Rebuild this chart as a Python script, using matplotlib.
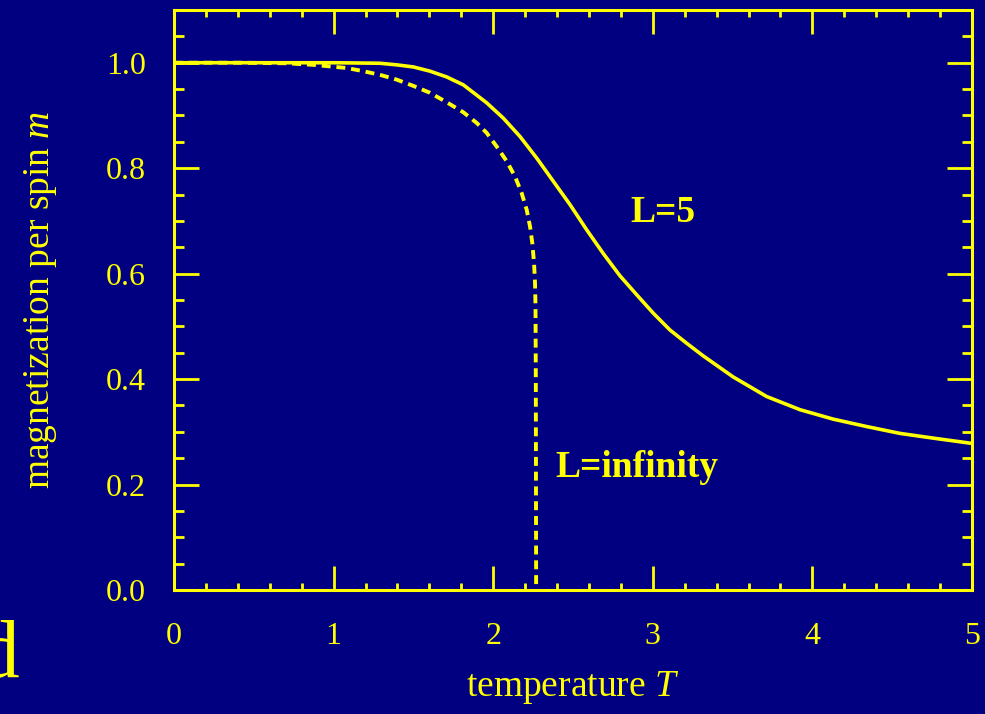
import matplotlib
matplotlib.use("Agg")
import matplotlib.pyplot as plt
from matplotlib.ticker import MultipleLocator

plt.rcParams["mathtext.fontset"] = "custom"
plt.rcParams["mathtext.it"] = "Liberation Serif:italic"
plt.rcParams["mathtext.rm"] = "Liberation Serif"

# Data
T_inf = [0.0, 0.4, 0.7, 0.873, 1.082, 1.186, 1.291, 1.395, 1.50, 1.604, 1.709, 1.813,
         1.896, 1.959, 2.022, 2.085, 2.137, 2.178, 2.210, 2.231, 2.245, 2.256, 2.262,
         2.265, 2.267, 2.268, 2.269]
m_inf = [1.0, 1.0, 0.999, 0.996, 0.990, 0.984, 0.977, 0.968, 0.956, 0.943, 0.925, 0.906,
         0.886, 0.867, 0.841, 0.813, 0.784, 0.753, 0.721, 0.689, 0.658, 0.620, 0.582,
         0.54, 0.40, 0.20, 0.0]

T_L5 = [0.0, 0.5, 1.0, 1.29, 1.395, 1.50, 1.604, 1.709, 1.813, 1.959, 2.063, 2.168,
        2.273, 2.377, 2.481, 2.586, 2.690, 2.794, 2.899, 3.003, 3.108, 3.212, 3.316,
        3.504, 3.713, 3.922, 4.131, 4.340, 4.549, 4.758, 5.0]
m_L5 = [1.0, 1.0, 1.0, 0.999, 0.996, 0.992, 0.984, 0.973, 0.958, 0.924, 0.895, 0.860,
        0.819, 0.775, 0.731, 0.683, 0.638, 0.596, 0.560, 0.525, 0.493, 0.468, 0.444,
        0.404, 0.367, 0.342, 0.324, 0.310, 0.297, 0.288, 0.278]

x_ticks = [0, 1, 2, 3, 4, 5]
y_ticks = [0.0, 0.2, 0.4, 0.6, 0.8, 1.0]
y_tick_labels = ["0.0", "0.2", "0.4", "0.6", "0.8", "1.0"]

BG = "#000080"
FG = "#FFFF00"
SERIF = ["Liberation Serif", "DejaVu Serif"]

fig = plt.figure(figsize=(9.85, 7.14), dpi=100, facecolor=BG)
ax = fig.add_axes([174/985, (714-590)/714, (972-174)/985, (590-10)/714])
ax.set_facecolor(BG)

ax.plot(T_L5, m_L5, color=FG, lw=2.6, solid_joinstyle="round")
ax.plot(T_inf, m_inf, color=FG, lw=2.8, dashes=(2.3, 1.5))

ax.set_xlim(0, 5)
ax.set_ylim(0, 1.1)

for s in ax.spines.values():
    s.set_color(FG)
    s.set_linewidth(2.2)

ax.set_xticks(x_ticks)
ax.set_xticklabels([str(v) for v in x_ticks])
ax.set_yticks(y_ticks)
ax.set_yticklabels(y_tick_labels)
ax.xaxis.set_minor_locator(MultipleLocator(0.2))
ax.yaxis.set_minor_locator(MultipleLocator(0.05))

ax.tick_params(axis="x", which="major", direction="in", length=17, width=2.0,
               color=FG, labelcolor=FG, top=True, pad=23, labelsize=23)
ax.tick_params(axis="x", which="minor", direction="in", length=5, width=2.0,
               color=FG, top=True)
ax.tick_params(axis="y", which="major", direction="in", length=18, width=2.0,
               color=FG, labelcolor=FG, right=True, pad=20, labelsize=23)
ax.tick_params(axis="y", which="minor", direction="in", length=7, width=2.0,
               color=FG, right=True)
for lab in ax.get_xticklabels() + ax.get_yticklabels():
    lab.set_family(SERIF)

ax.set_xlabel("temperature $T$", color=FG, fontsize=27, family=SERIF, labelpad=13)
ax.set_ylabel("magnetization per spin $m$", color=FG, fontsize=27, family=SERIF,
              labelpad=34)

ax.text(2.857, 0.698, "L=5", color=FG, fontsize=27, fontweight="bold", family=SERIF,
        va="baseline", ha="left")
ax.text(2.387, 0.214, "L=infinity", color=FG, fontsize=27, fontweight="bold", family=SERIF,
        va="baseline", ha="left")

fig.text(20/985, 1 - 677/714, "d", color=FG, fontsize=60, family=SERIF,
         ha="right", va="baseline")

fig.savefig("out.png", dpi=100, facecolor=BG)
